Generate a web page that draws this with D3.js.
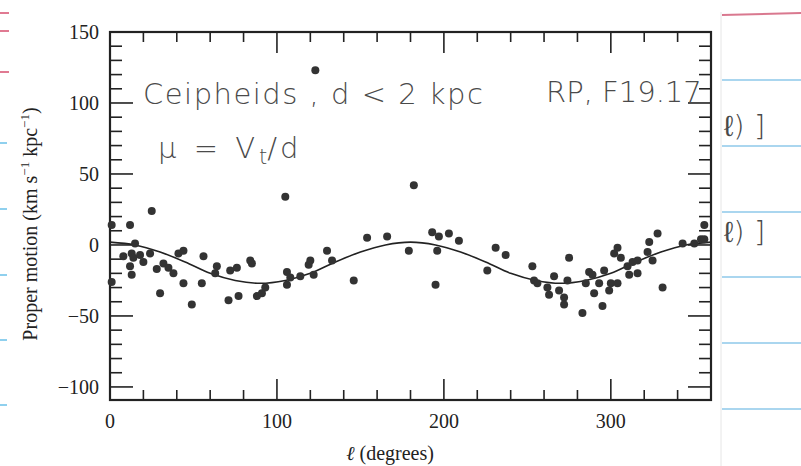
<!DOCTYPE html>
<html>
<head>
<meta charset="utf-8">
<script src="https://cdn.jsdelivr.net/npm/d3@7"></script>
<style>
  body { margin: 0; background: #fff; }
  svg { display: block; }
  .tick-label { font-family: "Liberation Serif", "DejaVu Serif", serif; font-size: 20px; fill: #222; }
  .hand { font-family: "DejaVu Sans", sans-serif; font-size: 29px; fill: #4a4a4a; font-weight: 300; }
</style>
</head>
<body>
<div id="chart"></div>
<script>
// Define SVG area dimensions
var svgWidth = 801;
var svgHeight = 466;

// plot frame (pixels in the scan)
var frame = { left: 110, right: 711, top: 32, bottom: 400 };

// galactic longitude l (degrees) of each Cepheid
var starL = [1, 1, 12, 25, 8, 15, 13, 14, 12, 13, 18, 20, 24, 28, 30, 32, 35, 38, 41, 44,
  44, 49, 56, 55, 64, 63, 71, 72, 76, 77, 84, 85, 88, 91, 93, 105, 106, 106, 108, 114,
  119, 120, 122, 123, 130, 133, 146, 154, 166, 179, 182, 193, 197, 196, 195, 203, 209, 226, 231, 237,
  253, 254, 256, 262, 263, 266, 269, 272, 272, 274, 275, 283, 285, 287, 289, 290, 293, 295, 296, 299,
  300, 302, 304, 306, 304, 310, 311, 313, 316, 316, 322, 323, 328, 325, 331, 343, 350, 354, 356, 356];
// proper motion (km s^-1 kpc^-1)
var starMu = [14, -26, 14, 24, -8, 1, -6, -9, -15, -21, -7, -12, -6, -17, -34, -13, -16, -20, -6, -4,
  -27, -42, -8, -27, -15, -20, -39, -18, -16, -36, -11, -13, -36, -34, -30, 34, -19, -28, -23, -22,
  -14, -11, -21, 123, -4, -11, -25, 5, 6, -4, 42, 9, 6, -4, -28, 8, 3, -18, -2, -7,
  -15, -25, -27, -30, -35, -22, -32, -37, -42, -25, -9, -48, -27, -19, -21, -34, -27, -43, -18, -32,
  -27, -6, -2, -9, -27, -15, -21, -12, -11, -20, -5, 2, 8, -11, -30, 1, 1, 4, 4, 14];

// model curve
var curveL = [0, 15, 30, 45, 60, 75, 90, 105, 120, 135, 150, 165, 180,
  195, 210, 225, 240, 255, 270, 285, 300, 315, 330, 345, 360];
var curveMu = [2, 0, -5, -12, -20, -25, -27, -25, -20, -12, -5, 0, 2,
  0, -5, -12, -20, -25, -27, -25, -20, -12, -5, 0, 2];

var xMajor = [0, 100, 200, 300];
var yMajor = [150, 100, 50, 0, -50, -100];

var svg = d3.select("#chart")
  .append("svg")
  .attr("width", svgWidth)
  .attr("height", svgHeight);

// notebook paper behind the figure (right strip)
var notebookLines = [80, 146, 212, 277, 343, 409];
svg.selectAll(".nb-line").data(notebookLines).enter()
  .append("line")
  .attr("x1", 722).attr("x2", svgWidth)
  .attr("y1", d => d).attr("y2", d => d)
  .attr("stroke", "#8ec8ea").attr("stroke-width", 1.5);
svg.append("line")
  .attr("x1", 722).attr("x2", svgWidth).attr("y1", 15).attr("y2", 13)
  .attr("stroke", "#d9788f").attr("stroke-width", 2);
svg.append("line")
  .attr("x1", 721).attr("x2", 721).attr("y1", 12).attr("y2", svgHeight)
  .attr("stroke", "#e6e6e6").attr("stroke-width", 1);

// margin marks on the left edge
var leftPink = [13, 31, 72];
var leftBlue = [143, 209, 275, 340, 405];
svg.selectAll(".lp").data(leftPink).enter().append("line")
  .attr("x1", 0).attr("x2", 9).attr("y1", d => d).attr("y2", d => d)
  .attr("stroke", "#e07a92").attr("stroke-width", 2);
svg.selectAll(".lb").data(leftBlue).enter().append("line")
  .attr("x1", 0).attr("x2", 7).attr("y1", d => d).attr("y2", d => d)
  .attr("stroke", "#8fd0ee").attr("stroke-width", 2);

var x = d3.scaleLinear().domain([0, 360]).range([frame.left, frame.right]);
var y = d3.scaleLinear().domain([-109.2, 150]).range([frame.bottom, frame.top]);

// ticks, all pointing inward on the four sides
var xMinor = d3.range(0, 361, 20).filter(d => d % 100 != 0 && d < 360);
var yMinor = d3.range(-100, 151, 10).filter(d => d % 50 != 0);

var ticks = svg.append("g").attr("stroke", "#222").attr("stroke-width", 1.6);
function tickLines(data, fn) {
  ticks.selectAll(null).data(data).enter().append("line").each(fn);
}
tickLines(xMajor.filter(d => d > 0), function(d) {
  d3.select(this).attr("x1", x(d)).attr("x2", x(d)).attr("y1", frame.bottom).attr("y2", frame.bottom - 21);
});
tickLines(xMinor, function(d) {
  d3.select(this).attr("x1", x(d)).attr("x2", x(d)).attr("y1", frame.bottom).attr("y2", frame.bottom - 10);
});
tickLines(xMajor.filter(d => d > 0), function(d) {
  d3.select(this).attr("x1", x(d)).attr("x2", x(d)).attr("y1", frame.top).attr("y2", frame.top + 21);
});
tickLines(xMinor, function(d) {
  d3.select(this).attr("x1", x(d)).attr("x2", x(d)).attr("y1", frame.top).attr("y2", frame.top + 10);
});
tickLines(yMajor, function(d) {
  d3.select(this).attr("x1", frame.left).attr("x2", frame.left + 23).attr("y1", y(d)).attr("y2", y(d));
});
tickLines(yMinor, function(d) {
  d3.select(this).attr("x1", frame.left).attr("x2", frame.left + 12).attr("y1", y(d)).attr("y2", y(d));
});
tickLines(yMajor, function(d) {
  d3.select(this).attr("x1", frame.right).attr("x2", frame.right - 23).attr("y1", y(d)).attr("y2", y(d));
});
tickLines(yMinor, function(d) {
  d3.select(this).attr("x1", frame.right).attr("x2", frame.right - 12).attr("y1", y(d)).attr("y2", y(d));
});

// frame
svg.append("rect")
  .attr("x", frame.left).attr("y", frame.top)
  .attr("width", frame.right - frame.left).attr("height", frame.bottom - frame.top)
  .attr("fill", "none").attr("stroke", "#222").attr("stroke-width", 2.2);

// tick labels
svg.selectAll(".xl").data(xMajor).enter().append("text")
  .attr("class", "tick-label")
  .attr("x", d => x(d)).attr("y", 428)
  .attr("text-anchor", "middle")
  .text(d => d);
svg.selectAll(".yl").data(yMajor).enter().append("text")
  .attr("class", "tick-label")
  .attr("x", 99).attr("y", d => y(d) + 7)
  .attr("text-anchor", "end")
  .text(d => d < 0 ? "\u2212" + Math.abs(d) : d);

// axis titles
svg.append("text")
  .attr("class", "tick-label")
  .attr("x", 390).attr("y", 460)
  .attr("text-anchor", "middle")
  .html('<tspan font-style="italic">\u2113</tspan> (degrees)');
var ytitle = svg.append("text")
  .attr("class", "tick-label")
  .attr("font-size", 21)
  .attr("transform", "translate(37, 224) rotate(-90)")
  .attr("text-anchor", "middle");
ytitle.append("tspan").text("Proper motion (km s");
ytitle.append("tspan").attr("dy", -8).attr("font-size", 13).text("\u22121");
ytitle.append("tspan").attr("dy", 8).text(" kpc");
ytitle.append("tspan").attr("dy", -8).attr("font-size", 13).text("\u22121");
ytitle.append("tspan").attr("dy", 8).text(")");

// model curve
var line = d3.line()
  .x((d, i) => x(curveL[i]))
  .y(d => y(d))
  .curve(d3.curveCatmullRom);
svg.append("path")
  .datum(curveMu)
  .attr("d", line)
  .attr("fill", "none")
  .attr("stroke", "#222")
  .attr("stroke-width", 1.6);

// data points
svg.selectAll(".star").data(starMu).enter().append("circle")
  .attr("cx", (d, i) => x(starL[i]))
  .attr("cy", d => y(d))
  .attr("r", 4)
  .attr("fill", "#333");

// handwritten notes on the scan
svg.append("text").attr("class", "hand").attr("x", 143).attr("y", 104)
  .attr("letter-spacing", 1.5).text("Ceipheids ,  d < 2 kpc");
var mu = svg.append("text").attr("class", "hand").attr("x", 158).attr("y", 158);
mu.append("tspan").attr("letter-spacing", 4).text("\u03bc = V");
mu.append("tspan").attr("dy", 6).attr("font-size", 21).text("t");
mu.append("tspan").attr("dy", -6).attr("letter-spacing", 3).text("/d");
svg.append("text").attr("class", "hand").attr("x", 546).attr("y", 102)
  .attr("font-size", 27).text("RP, F19.17");
svg.append("text").attr("class", "hand").attr("x", 724).attr("y", 136).text("\u2113) ]");
svg.append("text").attr("class", "hand").attr("x", 724).attr("y", 242).text("\u2113) ]");
</script>
</body>
</html>
